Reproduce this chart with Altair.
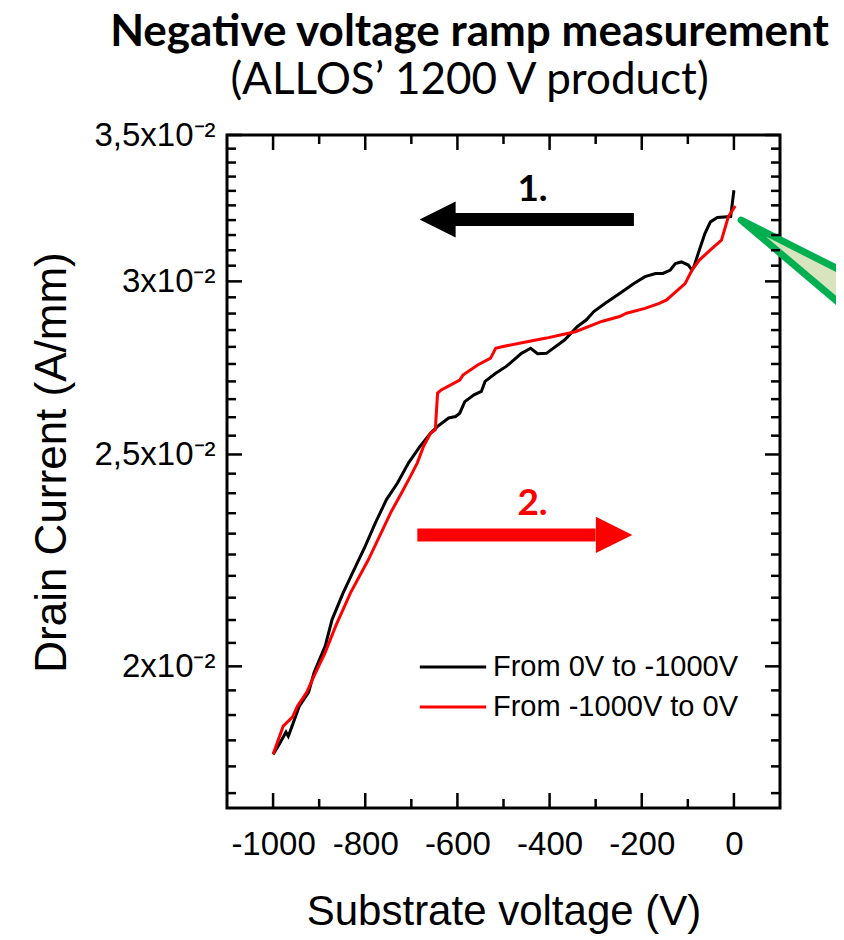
import altair as alt
import pandas as pd

# ---------------- data ----------------
black_label = "From 0V to -1000V"
red_label = "From -1000V to 0V"

black_v = [0, -7, -36, -51, -63, -75, -87, -91, -99, -114, -127, -138, -154, -170,
           -193, -217, -248, -280, -304, -320, -340, -367, -407, -426, -441, -461,
           -494, -517, -540, -548, -564, -584, -595, -604, -619, -643, -658, -682,
           -706, -730, -754, -778, -800, -824, -848, -872, -887, -911, -923, -943,
           -960, -967, -972, -990, -1000]
black_i = [0.03302, 0.03212, 0.03209, 0.03194, 0.03155, 0.03101, 0.03046, 0.03036,
           0.03052, 0.03062, 0.03057, 0.03036, 0.03025, 0.03025, 0.03015, 0.02993,
           0.02962, 0.02931, 0.02906, 0.02881, 0.02860, 0.02821, 0.02781, 0.02780,
           0.02796, 0.02781, 0.02743, 0.02723, 0.02700, 0.02672, 0.02662, 0.02643,
           0.02611, 0.02602, 0.02598, 0.02575, 0.02557, 0.02520, 0.02478, 0.02426,
           0.02384, 0.02326, 0.02270, 0.02215, 0.02161, 0.02101, 0.02043, 0.01987,
           0.01946, 0.01918, 0.01875, 0.01858, 0.01866, 0.01837, 0.01823]

red_v = [-1000, -978, -958, -947, -927, -911, -887, -864, -832, -793, -745, -721,
         -702, -687, -674, -658, -648, -643, -635, -595, -588, -556, -528, -517,
         -501, -446, -407, -374, -344, -287, -248, -233, -193, -162, -146, -130,
         -106, -91, -75, -51, -27, -12, 3]
red_i = [0.01823, 0.01878, 0.01896, 0.01918, 0.01946, 0.01980, 0.02029, 0.02087,
         0.02161, 0.02238, 0.02351, 0.02401, 0.02443, 0.02478, 0.02520, 0.02557,
         0.02566, 0.02667, 0.02676, 0.02704, 0.02718, 0.02747, 0.02767, 0.02796,
         0.02801, 0.02816, 0.02826, 0.02836, 0.02845, 0.02876, 0.02891, 0.02901,
         0.02916, 0.02931, 0.02942, 0.02962, 0.02993, 0.03036, 0.03068, 0.03101,
         0.03133, 0.03212, 0.03248]

x_major = [-1000, -800, -600, -400, -200, 0]
x_minor = [-900, -700, -500, -300, -100]
y_major = [0.02, 0.025, 0.03, 0.035]
y_minor = [round(0.0175 + 0.0005 * k, 4) for k in range(35)
           if round(0.0175 + 0.0005 * k, 4) not in y_major]

# annotation anchors (data coordinates)
arrow1_v = [-615, -217]      # black shaft
arrow1_i = 0.03202
arrow1_head_v = -643
arrow2_v = [-687, -300]      # red shaft
arrow2_i = 0.02297
arrow2_head_v = -260
label1 = {"V": -437, "I": 0.03264, "t": "1."}
label2 = {"V": -437, "I": 0.02346, "t": "2."}
callout_v = [15.6, 272]
callout_top = [0.0320, 0.03005]
callout_bot = [0.0320, 0.02880]

# ---------------- frames ----------------
lines = pd.DataFrame({
    "V": black_v + red_v,
    "I": black_i + red_i,
    "series": [black_label] * len(black_v) + [red_label] * len(red_v),
    "ord": list(range(len(black_v))) + list(range(len(red_v))),
})

W, H = 553, 673
xs = alt.Scale(domain=[-1100, 100], nice=False, zero=False)
ys = alt.Scale(type="log", domain=[0.017228, 0.035], nice=False)

FONT = "Liberation Sans"

x_axis = alt.Axis(values=x_major, title="Substrate voltage (V)", labelExpr="'' + datum.value",
                  labelFont=FONT, labelFontSize=33, labelColor="black",
                  titleFont=FONT, titleFontSize=42, titleFontWeight="normal", titleColor="black",
                  ticks=False, tickSize=0, domain=False, grid=False,
                  labelPadding=20, titlePadding=30)
y_axis = alt.Axis(values=y_major, title="Drain Current (A/mm)",
                  labelExpr="datum.value < 0.0225 ? '2x10⁻²' : datum.value < 0.0275 ? '2,5x10⁻²' : datum.value < 0.0325 ? '3x10⁻²' : '3,5x10⁻²'",
                  labelFont=FONT, labelFontSize=33, labelColor="black", labelBaseline="middle",
                  titleFont=FONT, titleFontSize=44, titleFontWeight="normal", titleColor="black",
                  ticks=False, tickSize=0, domain=False, grid=False,
                  labelPadding=12, titleX=-162, titleY=327, titleBaseline="alphabetic",
                  titleAngle=270)


def vx(field="V"):
    return alt.X(f"{field}:Q", scale=xs, axis=x_axis)


def vy(field="I"):
    return alt.Y(f"{field}:Q", scale=ys, axis=y_axis)


base_lines = alt.Chart(lines).mark_line(strokeWidth=3).encode(
    x=vx(), y=vy(),
    order="ord:Q",
    color=alt.Color("series:N",
                    scale=alt.Scale(domain=[black_label, red_label], range=["#000000", "#ff0000"]),
                    legend=alt.Legend(orient="none", legendX=191, legendY=512, title=None,
                                      symbolType="stroke", symbolSize=4400, symbolStrokeWidth=3,
                                      labelFont=FONT, labelFontSize=29, labelColor="black",
                                      labelLimit=400, labelOffset=5, padding=0, rowPadding=0,
                                      clipHeight=40)),
)

tick_w = 2.5
xmaj = pd.DataFrame({"V": x_major})
xmin = pd.DataFrame({"V": x_minor})
ymaj = pd.DataFrame({"I": y_major})
ymin = pd.DataFrame({"I": y_minor})

ticks = [
    alt.Chart(xmaj).mark_rule(color="black", strokeWidth=tick_w).encode(x=vx(), y=alt.value(H), y2=alt.value(H - 15)),
    alt.Chart(xmaj).mark_rule(color="black", strokeWidth=tick_w).encode(x=vx(), y=alt.value(0), y2=alt.value(15)),
    alt.Chart(xmin).mark_rule(color="black", strokeWidth=tick_w).encode(x=vx(), y=alt.value(H), y2=alt.value(H - 9)),
    alt.Chart(xmin).mark_rule(color="black", strokeWidth=tick_w).encode(x=vx(), y=alt.value(0), y2=alt.value(9)),
    alt.Chart(ymaj).mark_rule(color="black", strokeWidth=tick_w).encode(y=vy(), x=alt.value(0), x2=alt.value(15)),
    alt.Chart(ymaj).mark_rule(color="black", strokeWidth=tick_w).encode(y=vy(), x=alt.value(W), x2=alt.value(W - 15)),
    alt.Chart(ymin).mark_rule(color="black", strokeWidth=tick_w).encode(y=vy(), x=alt.value(0), x2=alt.value(9)),
    alt.Chart(ymin).mark_rule(color="black", strokeWidth=tick_w).encode(y=vy(), x=alt.value(W), x2=alt.value(W - 9)),
]

shafts = pd.DataFrame({
    "V": [arrow1_v[0], arrow2_v[0]], "V2": [arrow1_v[1], arrow2_v[1]],
    "I": [arrow1_i, arrow2_i], "c": ["#000000", "#ff0000"],
})
shaft_layer = alt.Chart(shafts).mark_rule(strokeWidth=13, strokeCap="butt").encode(
    x=vx(), x2="V2:Q", y=vy(), color=alt.Color("c:N", scale=None, legend=None))

head1 = alt.Chart(pd.DataFrame({"V": [arrow1_head_v], "I": [arrow1_i]})).mark_point(
    shape="M -1 0 L 1 -1 L 1 1 Z", filled=True, size=1300, color="#000000", opacity=1, strokeWidth=0
).encode(x=vx(), y=vy())
head2 = alt.Chart(pd.DataFrame({"V": [arrow2_head_v], "I": [arrow2_i]})).mark_point(
    shape="M 1 0 L -1 -1 L -1 1 Z", filled=True, size=1330, color="#ff0000", opacity=1, strokeWidth=0
).encode(x=vx(), y=vy())

txt1 = alt.Chart(pd.DataFrame([label1])).mark_text(
    font="Lato", fontSize=37, fontWeight="bold", color="#000000", baseline="alphabetic", align="center"
).encode(x=vx(), y=vy(), text="t:N")
txt2 = alt.Chart(pd.DataFrame([label2])).mark_text(
    font="Lato", fontSize=37, fontWeight="bold", color="#ff0000", baseline="alphabetic", align="center"
).encode(x=vx(), y=vy(), text="t:N")

callout = alt.Chart(pd.DataFrame({"V": callout_v, "I": callout_top, "I2": callout_bot})).mark_area(
    fill="#D7E4BD", stroke="#00B050", strokeWidth=7, strokeJoin="round", opacity=1
).encode(x=vx(), y=vy(), y2="I2:Q")

chart = alt.layer(
    base_lines, callout, *ticks, shaft_layer, head1, head2, txt1, txt2
).properties(
    width=W, height=H,
    background="white",
    title=alt.TitleParams(
        text="Negative voltage ramp measurement",
        subtitle="(ALLOS’ 1200 V product)",
        font="Lato", fontSize=44, fontWeight="bold", color="black",
        subtitleFont="Lato", subtitleFontSize=44, subtitleFontWeight="normal", subtitleColor="black",
        anchor="middle", dx=-34, offset=16, subtitlePadding=4,
    ),
    padding={"left": 219, "top": 127, "right": 56, "bottom": 130},
    autosize=alt.AutoSizeParams(type="none"),
).configure_view(stroke="black", strokeWidth=3)

chart.save("out.html", embed_options={"renderer": "svg", "actions": False})
